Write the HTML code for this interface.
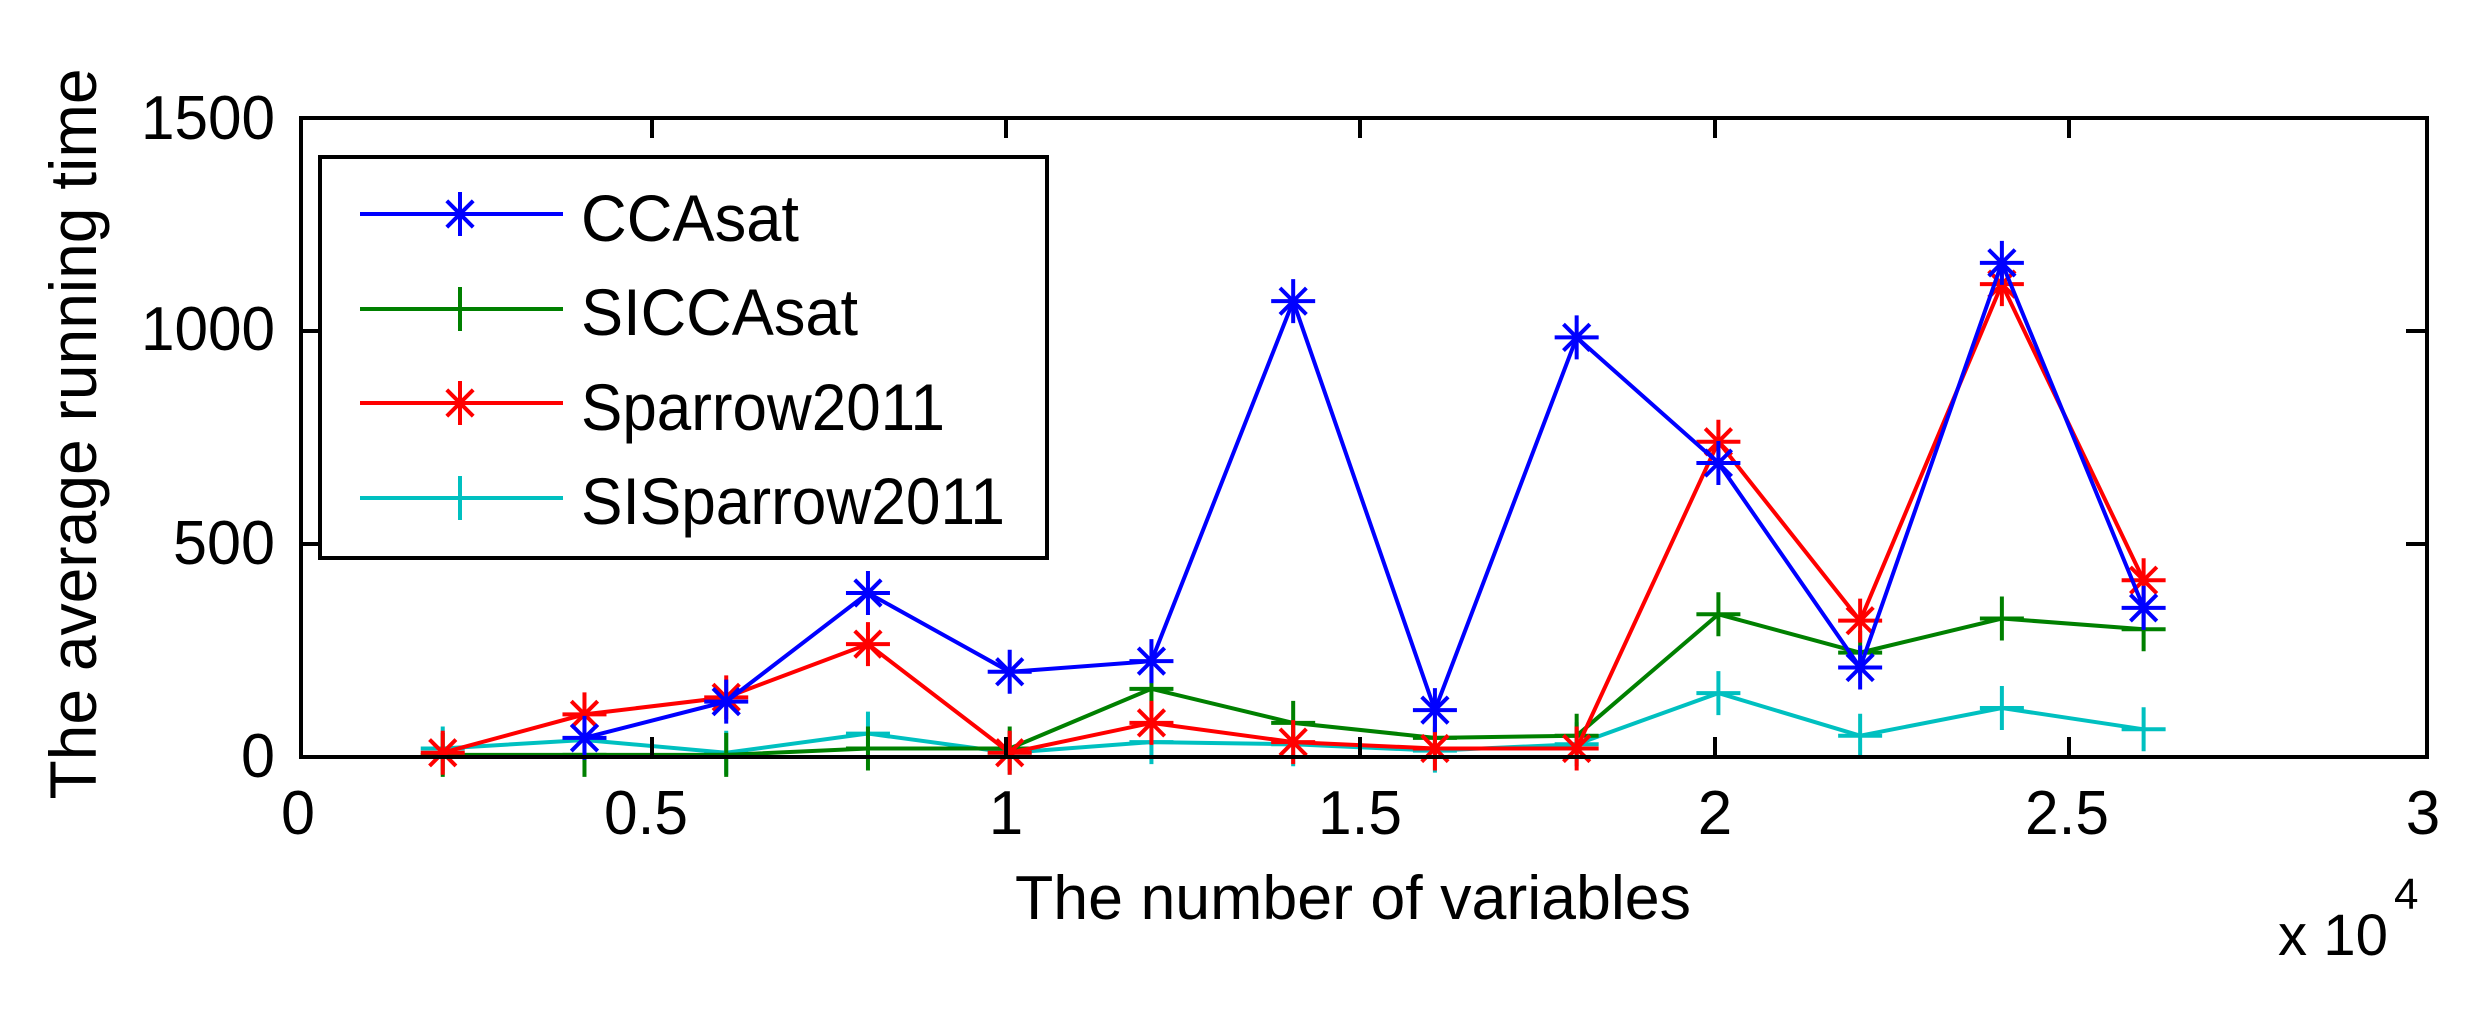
<!DOCTYPE html>
<html><head><meta charset="utf-8"><style>
html,body{margin:0;padding:0;background:#fff;overflow:hidden;}
svg{display:block;}
text{font-family:"Liberation Sans",sans-serif;fill:#000;}
</style></head><body>
<svg id="s" width="2481" height="1015" viewBox="0 0 2481 1015" xmlns="http://www.w3.org/2000/svg">
<rect width="2481" height="1015" fill="#fff"/>
<g id="plot"></g>
<rect x="301" y="118" width="2126" height="639" fill="none" stroke="#000" stroke-width="4"/>
<g stroke="#000" stroke-width="4">
<line x1="301" y1="544" x2="322" y2="544"/><line x1="301" y1="331" x2="322" y2="331"/>
<line x1="2427" y1="544" x2="2406" y2="544"/><line x1="2427" y1="331" x2="2406" y2="331"/>
<line x1="652" y1="757" x2="652" y2="737"/><line x1="1006" y1="757" x2="1006" y2="737"/><line x1="1360" y1="757" x2="1360" y2="737"/><line x1="1715" y1="757" x2="1715" y2="737"/><line x1="2069" y1="757" x2="2069" y2="737"/>
<line x1="652" y1="118" x2="652" y2="138"/><line x1="1006" y1="118" x2="1006" y2="138"/><line x1="1360" y1="118" x2="1360" y2="138"/><line x1="1715" y1="118" x2="1715" y2="138"/><line x1="2069" y1="118" x2="2069" y2="138"/>
</g>
<g font-size="62" text-anchor="end">
<text x="275" y="139" textLength="134" lengthAdjust="spacingAndGlyphs">1500</text>
<text x="275" y="350" textLength="134" lengthAdjust="spacingAndGlyphs">1000</text>
<text x="275" y="564" textLength="102" lengthAdjust="spacingAndGlyphs">500</text>
<text x="275" y="777" textLength="34" lengthAdjust="spacingAndGlyphs">0</text>
</g>
<g font-size="62" text-anchor="middle">
<text x="298" y="834" textLength="34" lengthAdjust="spacingAndGlyphs">0</text>
<text x="646" y="834" textLength="84" lengthAdjust="spacingAndGlyphs">0.5</text>
<text x="1006" y="834">1</text>
<text x="1360" y="834" textLength="84" lengthAdjust="spacingAndGlyphs">1.5</text>
<text x="1715" y="834">2</text>
<text x="2067" y="834" textLength="84" lengthAdjust="spacingAndGlyphs">2.5</text>
<text x="2423" y="834">3</text>
</g>
<text x="1015" y="919" font-size="62" textLength="676" lengthAdjust="spacingAndGlyphs">The number of variables</text>
<text x="2278" y="955" font-size="58" textLength="110" lengthAdjust="spacingAndGlyphs">x 10</text>
<text x="2394" y="909" font-size="44">4</text>
<text transform="translate(96,434) rotate(-90)" font-size="66" text-anchor="middle" textLength="731" lengthAdjust="spacingAndGlyphs">The average running time</text>
<rect x="320" y="157" width="727" height="401" fill="#fff" stroke="#000" stroke-width="4"/>
<g id="leg"></g>
<g font-size="66">
<text x="581" y="241" textLength="218" lengthAdjust="spacingAndGlyphs">CCAsat</text>
<text x="581" y="335" textLength="277" lengthAdjust="spacingAndGlyphs">SICCAsat</text>
<text x="581" y="430" textLength="364" lengthAdjust="spacingAndGlyphs">Sparrow2011</text>
<text x="581" y="524" textLength="424" lengthAdjust="spacingAndGlyphs">SISparrow2011</text>
</g>
</svg>
<script>
var NS="http://www.w3.org/2000/svg";
function X(v){return 301+v*708.7;}
function Y(v){return 757-v*0.426;}
var S=[
 {c:"#00c0c0",m:"+",x:[0.2,0.4,0.6,0.8,1.0,1.2,1.4,1.6,1.8,2.0,2.2,2.4,2.6],d:[20,40,10,55,10,35,30,15,30,150,50,115,65]},
 {c:"#008000",m:"+",x:[0.2,0.4,0.6,0.8,1.0,1.2,1.4,1.6,1.8,2.0,2.2,2.4,2.6],d:[5,5,5,20,20,160,80,45,50,335,245,325,300]},
 {c:"#ff0000",m:"*",x:[0.2,0.4,0.6,0.8,1.0,1.2,1.4,1.6,1.8,2.0,2.2,2.4,2.6],d:[10,100,140,265,10,80,35,20,20,740,320,1110,415]},
 {c:"#0000ff",m:"*",x:[0.4,0.6,0.8,1.0,1.2,1.4,1.6,1.8,2.0,2.2,2.4,2.6],d:[45,130,385,200,225,1070,110,985,690,210,1160,350]}
];
var g=document.getElementById("plot");
function el(p,n,a){var e=document.createElementNS(NS,n);for(var k in a)e.setAttribute(k,a[k]);p.appendChild(e);return e;}
function marker(p,x,y,c,m){
 var r=22;
 el(p,"line",{x1:x-r,y1:y,x2:x+r,y2:y,stroke:c,"stroke-width":4});
 el(p,"line",{x1:x,y1:y-r,x2:x,y2:y+r,stroke:c,"stroke-width":4});
 if(m=="*"){var q=r*0.6;
  el(p,"line",{x1:x-q,y1:y-q,x2:x+q,y2:y+q,stroke:c,"stroke-width":4});
  el(p,"line",{x1:x-q,y1:y+q,x2:x+q,y2:y-q,stroke:c,"stroke-width":4});}
}
S.forEach(function(s){
 var pts=s.x.map(function(x,i){return X(x)+","+Y(s.d[i]);}).join(" ");
 el(g,"polyline",{points:pts,fill:"none",stroke:s.c,"stroke-width":4});
 s.x.forEach(function(x,i){marker(g,X(x),Y(s.d[i]),s.c,s.m);});
});
var lg=document.getElementById("leg");
var L=[[214,"#0000ff","*"],[309,"#008000","+"],[403,"#ff0000","*"],[498,"#00c0c0","+"]];
L.forEach(function(l){
 el(lg,"line",{x1:360,y1:l[0],x2:563,y2:l[0],stroke:l[1],"stroke-width":4});
 marker(lg,460,l[0],l[1],l[2]);
});
</script>
</body></html>
